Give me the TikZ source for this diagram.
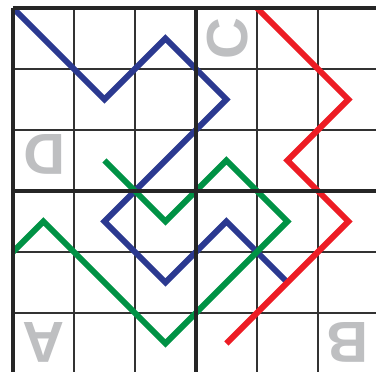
\documentclass[tikz,border=0pt]{standalone}
\usepackage{fontspec}
\newfontfamily\letterfont{Liberation Sans}
\usepackage{tikz}

\definecolor{pathblue}{RGB}{43,57,144}
\definecolor{pathgreen}{RGB}{0,146,69}
\definecolor{pathred}{RGB}{237,28,36}
\definecolor{lettergrey}{RGB}{190,191,193}
\definecolor{gridgrey}{RGB}{50,50,50}

\begin{document}
\begin{tikzpicture}[
  thin grid/.style={draw=gridgrey,line width=0.9pt},
  thick grid/.style={draw=black!85,line width=1.5pt},
  route/.style={line width=2.8pt},
  corner letter/.style={text=lettergrey,font=\letterfont\bfseries\fontsize{27}{27}\selectfont,inner sep=0pt}]
  \useasboundingbox (-0.213,0.033) rectangle (5.951,6.131);
  \clip (-0.213,0.033) rectangle (5.951,6.131);
  \fill[white] (-0.213,0.033) rectangle (5.951,6.131);
  % grid
  \foreach \i in {1,2,4,5} {
    \draw[thin grid] (\i,0) -- (\i,6);
    \draw[thin grid] (0,\i) -- (6,\i);
  }
  % letters
  \node[corner letter,rotate=90] (c) at (3.52,5.5) {C};
  \node[corner letter,rotate=180] (d) at (0.52,3.6) {D};
  \node[corner letter,rotate=180] (a) at (0.5,0.52) {A};
  \node[corner letter,rotate=180] (b) at (5.48,0.52) {B};
  % routes
  \draw[route,pathblue] (0,6) -- (1.5,4.5) -- (2.5,5.5) -- (3.5,4.5) -- (1.5,2.5)
    -- (2.5,1.5) -- (3.5,2.5) -- (4.5,1.5);
  \draw[route,pathgreen] (1.5,3.5) -- (2.5,2.5) -- (3.5,3.5) -- (4.5,2.5) -- (2.5,0.5)
    -- (0.5,2.5) -- (0,2);
  \draw[route,pathred] (4,6) -- (5.5,4.5) -- (4.5,3.5) -- (5.5,2.5) -- (3.5,0.5);
  % block borders
  \foreach \i in {0,3,6} {
    \draw[thick grid] (\i,0) -- (\i,6);
    \draw[thick grid] (0,\i) -- (6,\i);
  }
\end{tikzpicture}
\end{document}
